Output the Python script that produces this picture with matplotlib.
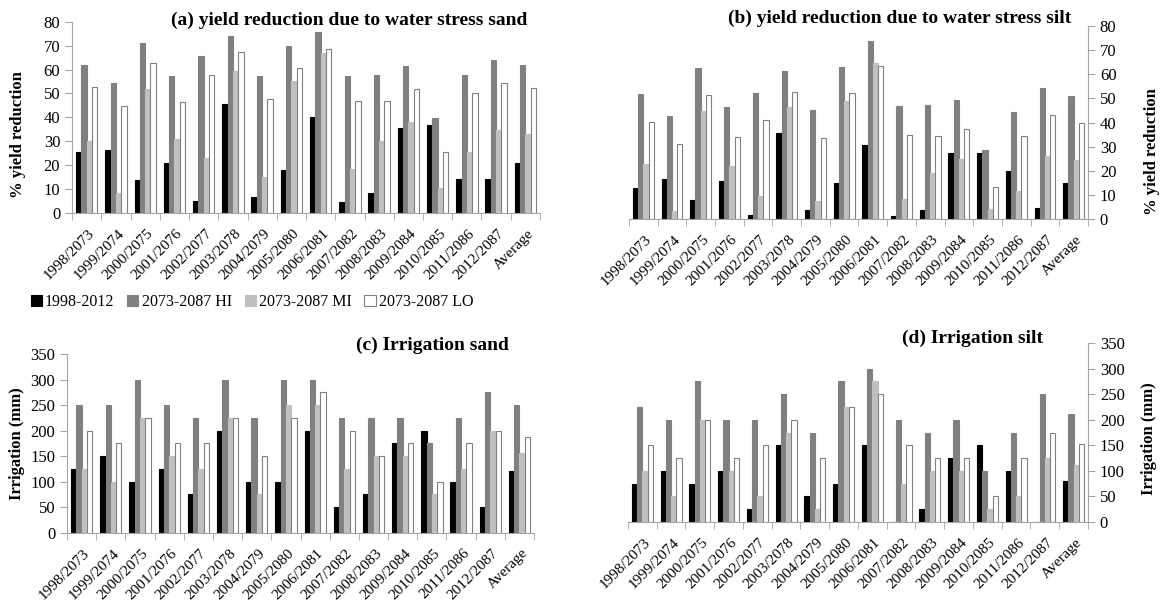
import matplotlib.pyplot as plt
import numpy as np

plt.rcParams['font.family'] = ['Liberation Serif', 'DejaVu Serif']

anos = ["1998/2073", "1999/2074", "2000/2075", "2001/2076", "2002/2077",
        "2003/2078", "2004/2079", "2005/2080", "2006/2081", "2007/2082",
        "2008/2083", "2009/2084", "2010/2085", "2011/2086", "2012/2087",
        "Average"]
series = ["1998-2012", "2073-2087 HI", "2073-2087 MI", "2073-2087 LO"]

# (a) yield reduction sand (%)
a_base = [25.5, 26.4, 13.7, 20.9, 4.9, 45.4, 6.7, 17.9, 40.3, 4.5, 8.4, 35.5, 36.9, 14.4, 14.4, 20.9]
a_hi = [62, 54.3, 71.2, 57.1, 65.8, 74.1, 57.1, 69.8, 75.5, 57.4, 57.9, 61.3, 39.7, 57.8, 63.8, 61.7]
a_mi = [30, 8.4, 51.8, 30.9, 22.9, 59.2, 15.1, 55, 66.9, 18.3, 30, 38, 10.3, 25.3, 34.6, 33]
a_lo = [52.6, 44.7, 62.7, 46.6, 57.9, 67.4, 47.5, 60.7, 68.7, 46.8, 47, 51.7, 25.7, 50, 54.2, 52.2]

# (b) yield reduction silt (%)
b_base = [12.7, 16.5, 7.9, 15.8, 1.5, 35.6, 3.7, 15, 30.5, 1.2, 3.6, 27.3, 27.4, 20.1, 4.6, 14.8]
b_hi = [51.8, 42.8, 62.6, 46.5, 52.1, 61.4, 45.3, 63, 73.7, 46.8, 47.4, 49.2, 28.5, 44.3, 54.3, 51.2]
b_mi = [22.9, 3.3, 44.6, 22, 9.6, 46.5, 7.5, 49, 64.6, 8.4, 19.2, 24.8, 4.3, 11.8, 26, 24.4]
b_lo = [40.3, 31.2, 51.4, 34.1, 41.1, 52.6, 33.5, 52.1, 63.3, 34.8, 34.6, 37.3, 13.2, 34.3, 43.1, 39.8]

# (c) irrigation sand (mm)
c_base = [125, 150, 100, 125, 75, 200, 100, 100, 200, 50, 75, 175, 200, 100, 50, 121]
c_hi = [250, 250, 300, 250, 225, 300, 225, 300, 300, 225, 225, 225, 175, 225, 275, 250]
c_mi = [125, 100, 225, 150, 125, 225, 75, 250, 250, 125, 150, 150, 75, 125, 200, 156]
c_lo = [200, 175, 225, 175, 175, 225, 150, 225, 275, 200, 150, 175, 100, 175, 200, 188]

# (d) irrigation silt (mm)
d_base = [75, 100, 75, 100, 25, 150, 50, 75, 150, 0, 25, 125, 150, 100, 0, 80]
d_hi = [225, 200, 275, 200, 200, 250, 175, 275, 300, 200, 175, 200, 100, 175, 250, 212]
d_mi = [100, 50, 200, 100, 50, 175, 25, 225, 275, 75, 100, 100, 25, 50, 125, 111]
d_lo = [150, 125, 200, 125, 150, 200, 125, 225, 250, 150, 125, 125, 50, 125, 175, 153]

cores = ["#000000", "#808080", "#c0c0c0", "#ffffff"]
bordas = ["#000000", "#808080", "#c0c0c0", "#808080"]
cinza = "#a6a6a6"

fig = plt.figure(figsize=(11.62, 6.03), dpi=100)


def painel(pos, dados, ymax, passo, direita=False):
    ax = fig.add_axes(pos)
    x = np.arange(len(anos))
    w = 0.182
    barras = []
    for i, valores in enumerate(dados):
        b = ax.bar(x + (i - 1.5) * w, valores, w, color=cores[i],
                   edgecolor=bordas[i], linewidth=0.8, label=series[i])
        barras.append(b)
    ax.set_xlim(-0.5, len(anos) - 0.5)
    ax.set_ylim(0, ymax)
    ax.set_yticks(np.arange(0, ymax + 1, passo))
    ax.set_xticks(x + 0.05)
    ax.set_xticklabels(anos, rotation=45, ha="right", va="top",
                       rotation_mode="anchor", fontsize=11)
    ax.set_xticks(np.arange(-0.5, len(anos)), minor=True)
    ax.tick_params(axis="x", which="major", length=0, pad=10)
    ax.tick_params(axis="x", which="minor", length=5, color=cinza)
    ax.tick_params(axis="y", labelsize=12, color=cinza, length=5)
    ax.spines["top"].set_visible(False)
    if direita:
        ax.spines["left"].set_visible(False)
        ax.yaxis.tick_right()
        ax.spines["right"].set_color(cinza)
    else:
        ax.spines["right"].set_visible(False)
        ax.spines["left"].set_color(cinza)
    ax.spines["bottom"].set_color(cinza)
    return ax, barras


ax_a, barras = painel([0.062, 0.6468, 0.4027, 0.3172],
                      [a_base, a_hi, a_mi, a_lo], 80, 10)
ax_b, _ = painel([0.5413, 0.6368, 0.395, 0.32],
                 [b_base, b_hi, b_mi, b_lo], 80, 10, direita=True)
ax_c, _ = painel([0.0577, 0.1166, 0.4019, 0.2963],
                 [c_base, c_hi, c_mi, c_lo], 350, 50)
ax_d, _ = painel([0.5404, 0.1343, 0.3959, 0.2968],
                 [d_base, d_hi, d_mi, d_lo], 350, 50, direita=True)

titulo = dict(fontsize=14, fontweight="bold", ha="center", va="center")
fig.text(349 / 1162, 1 - 20 / 603, "(a) yield reduction due to water stress sand", **titulo)
fig.text(900 / 1162, 1 - 18 / 603, "(b) yield reduction due to water stress silt", **titulo)
fig.text(432 / 1162, 1 - 345 / 603, "(c) Irrigation sand", **titulo)
fig.text(973 / 1162, 1 - 338 / 603, "(d) Irrigation silt", **titulo)

rot = dict(fontsize=12, fontweight="bold", ha="center", va="center", rotation=90)
fig.text(18 / 1162, 1 - 135 / 603, "% yield reduction", **rot)
fig.text(1152 / 1162, 1 - 152 / 603, "% yield reduction", **rot)
fig.text(17 / 1162, 1 - 444 / 603, "Irrigation (mm)", **rot)
fig.text(1149 / 1162, 1 - 439 / 603, "Irrigation (mm)", **rot)

fig.legend(barras, series, loc="center", bbox_to_anchor=(252 / 1162, 1 - 302 / 603),
           ncol=4, frameon=False, fontsize=11.5, handlelength=0.7, handleheight=0.7,
           handletextpad=0.2, columnspacing=0.8)

plt.savefig("out.png", dpi=100)
